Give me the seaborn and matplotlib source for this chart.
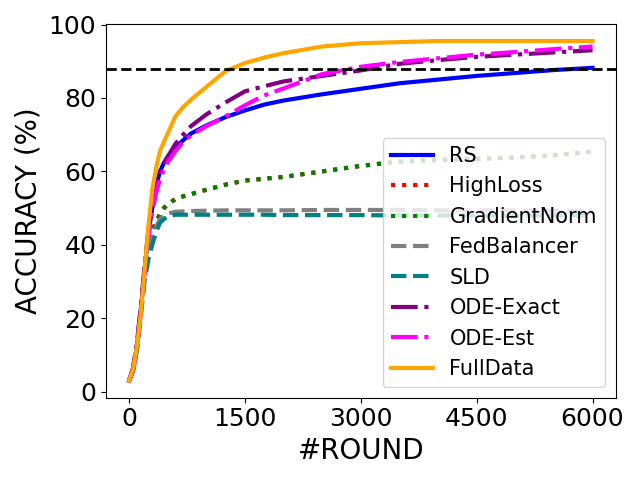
import matplotlib
matplotlib.use("Agg")
import matplotlib.pyplot as plt
import seaborn as sns

rounds = [0, 50, 100, 150, 200, 250, 300, 350, 400, 450, 500, 600, 700, 800, 1000,
          1250, 1500, 1750, 2000, 2500, 3000, 3500, 4000, 4500, 5000, 5500, 6000]

rs = [3, 6, 12, 22, 33, 43, 50, 56, 60, 62.3, 64, 66.5, 68.5, 70.3, 72.5,
      74.8, 76.6, 78.2, 79.3, 81, 82.5, 84, 85, 86, 86.8, 87.6, 88.2]
high_loss = [3, 6, 12, 22, 33, 40, 44, 46, 48.5, 50, 51, 52.5, 53.2, 53.8, 55,
             56.4, 57.5, 58, 58.5, 60, 61.5, 62.7, 63.1, 63.4, 63.8, 64.4, 65.4]
grad_norm = [3, 6, 12, 22, 33, 40, 44, 46, 48.5, 50, 51, 52.5, 53.2, 53.8, 55,
             56.4, 57.5, 58, 58.5, 60, 61.5, 62.7, 63.1, 63.4, 63.8, 64.4, 65.4]
fed_balancer = [3, 6, 12, 22, 32, 38, 42, 45, 47, 48, 48.5, 49, 49.1, 49.2, 49.3,
                49.4, 49.4, 49.4, 49.4, 49.5, 49.5, 49.5, 49.4, 49.4, 49.4, 49.3, 49.3]
sld = [3, 5.5, 11, 20, 30, 36, 40, 43.5, 46, 47, 47.7, 48.2, 48.2, 48.2, 48.2,
       48.2, 48.2, 48.2, 48.1, 48.1, 48.1, 48.0, 48.0, 48.0, 48.0, 48.0, 48.0]
ode_exact = [3, 6.5, 13, 23, 34, 44, 51, 56, 60, 62.2, 64, 67.5, 70, 72.3, 75.5,
             78.8, 81.8, 83.2, 84.5, 86, 87.5, 89.3, 90.3, 91.2, 91.8, 92.4, 93]
ode_est = [3, 5.5, 11, 21, 32, 42, 49, 54, 58, 60.5, 62.5, 65.5, 68, 69.8, 72.3,
           75, 78, 80.7, 82.6, 86.5, 88.5, 89.8, 90.8, 91.8, 92.5, 93.3, 94]
full_data = [3, 6, 12, 21, 33, 45, 55, 61, 65.5, 68, 70.3, 75, 77.5, 79.5, 83,
             87.3, 89.5, 91, 92.2, 94, 94.9, 95.2, 95.5, 95.5, 95.5, 95.5, 95.5]
target = 88

series = [
    ("RS", rs, "blue", "-"),
    ("HighLoss", high_loss, "red", ":"),
    ("GradientNorm", grad_norm, "green", ":"),
    ("FedBalancer", fed_balancer, "gray", "--"),
    ("SLD", sld, "teal", "--"),
    ("ODE-Exact", ode_exact, "purple", "-."),
    ("ODE-Est", ode_est, "magenta", "-."),
    ("FullData", full_data, "orange", "-"),
]

fig, ax = plt.subplots(figsize=(6.4, 4.8), dpi=100)
for name, vals, color, ls in series:
    sns.lineplot(x=rounds, y=vals, color=color, linestyle=ls, lw=3,
                 label=name, ax=ax)

ax.axhline(target, color="black", linestyle="--", lw=2)
ax.set_xticks([0, 1500, 3000, 4500, 6000])
ax.set_yticks([0, 20, 40, 60, 80, 100])
ax.tick_params(labelsize=18)
ax.set_xlabel("#ROUND", fontsize=20)
ax.set_ylabel("ACCURACY (%)", fontsize=20)
ax.legend(loc="lower right", fontsize=15)
plt.tight_layout()
plt.savefig("out.png")
